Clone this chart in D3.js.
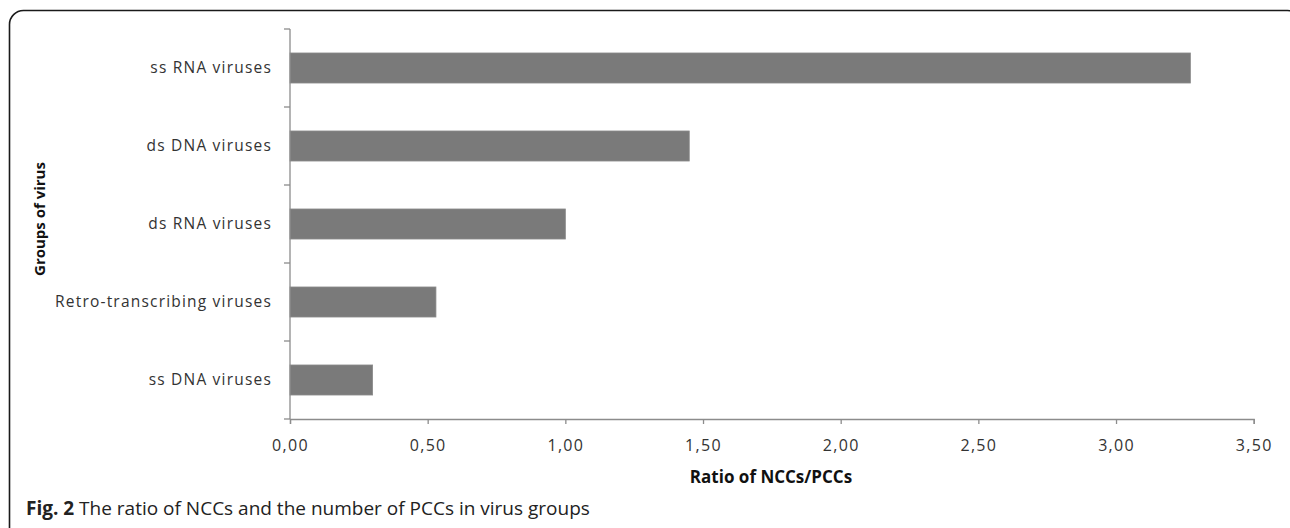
<!DOCTYPE html>
<html>
<head>
<meta charset="utf-8">
<script src="https://cdn.jsdelivr.net/npm/d3@7"></script>
<style>
  html, body { margin: 0; padding: 0; background: #fff; }
  svg { display: block; }
</style>
</head>
<body>
<svg id="chart" width="1290" height="528"></svg>
<script>
const categories = ["ss RNA viruses", "ds DNA viruses", "ds RNA viruses", "Retro-transcribing viruses", "ss DNA viruses"];
const values = [3.27, 1.45, 1.00, 0.53, 0.30];
const xTicks = [0, 0.5, 1.0, 1.5, 2.0, 2.5, 3.0, 3.5];
const xTitle = "Ratio of NCCs/PCCs";
const yTitle = "Groups of virus";
const captionBold = "Fig. 2";
const captionText = " The ratio of NCCs and the number of PCCs in virus groups";

const svg = d3.select("#chart");
const axisColor = "#8c8c8c";
const textColor = "#333";
const labelFont = "'Open Sans', sans-serif";

// frame
svg.append("rect")
  .attr("x", 9.5).attr("y", 10.5)
  .attr("width", 1292).attr("height", 620)
  .attr("rx", 14).attr("ry", 14)
  .attr("fill", "none").attr("stroke", "#1a1a1a").attr("stroke-width", 1.6);

const x = d3.scaleLinear().domain([0, 3.5]).range([290, 1253.7]);
const y = d3.scaleBand().domain(categories).range([29, 419]).paddingInner(0.615).paddingOuter(0.3075);

// bars
svg.append("g").selectAll("rect")
  .data(values)
  .join("rect")
  .attr("x", x(0))
  .attr("y", (d, i) => y(categories[i]))
  .attr("width", d => x(d) - x(0))
  .attr("height", y.bandwidth())
  .attr("fill", "#7a7a7a")
  .attr("stroke", "#8a8a8a")
  .attr("stroke-width", 0.8);

// y axis line + ticks at band boundaries
const yb = svg.append("g").attr("stroke", axisColor).attr("stroke-width", 1.3);
yb.append("line").attr("x1", 290).attr("x2", 290).attr("y1", 29).attr("y2", 419);
const boundaries = categories.map(c => y(c) - y.step() * y.paddingInner() / 2).concat([419]);
yb.selectAll("line.t").data(boundaries).join("line").attr("class", "t")
  .attr("x1", 284).attr("x2", 290).attr("y1", d => d).attr("y2", d => d);

// category labels
svg.append("g").selectAll("text").data(categories).join("text")
  .attr("x", 272)
  .attr("y", c => y(c) + y.bandwidth() / 2)
  .attr("dy", "0.35em")
  .attr("text-anchor", "end")
  .attr("font-family", labelFont)
  .attr("font-size", 15.5)
  .attr("letter-spacing", 1.2)
  .attr("fill", textColor)
  .text(c => c);

// x axis
const fmt = d => d.toFixed(2).replace(".", ",");
const xAxis = svg.append("g").attr("transform", "translate(0,419)")
  .call(d3.axisBottom(x).tickValues(xTicks).tickSize(5).tickPadding(16).tickFormat(fmt));
xAxis.select(".domain").attr("stroke", axisColor).attr("stroke-width", 1.3);
xAxis.selectAll(".tick line").attr("stroke", axisColor).attr("stroke-width", 1.3);
xAxis.selectAll(".tick text")
  .attr("font-family", labelFont).attr("font-size", 16).attr("letter-spacing", 1.3)
  .attr("fill", textColor);

// axis titles
svg.append("text")
  .attr("x", 771).attr("y", 477).attr("dy", "0.35em")
  .attr("text-anchor", "middle")
  .attr("font-family", "'Open Sans', sans-serif").attr("font-weight", "bold")
  .attr("font-size", 17).attr("fill", "#111")
  .text(xTitle);

svg.append("text")
  .attr("transform", "translate(40,219) rotate(-90)")
  .attr("dy", "0.35em")
  .attr("text-anchor", "middle")
  .attr("font-family", "'Open Sans', sans-serif").attr("font-weight", "bold")
  .attr("font-size", 15).attr("fill", "#111")
  .text(yTitle);

// caption
const cap = svg.append("text")
  .attr("x", 26).attr("y", 515)
  .attr("font-family", "'Open Sans', sans-serif")
  .attr("font-size", 19).attr("fill", "#222");
cap.append("tspan").attr("font-weight", "bold").text(captionBold);
cap.append("tspan").text(captionText);
</script>
</body>
</html>
